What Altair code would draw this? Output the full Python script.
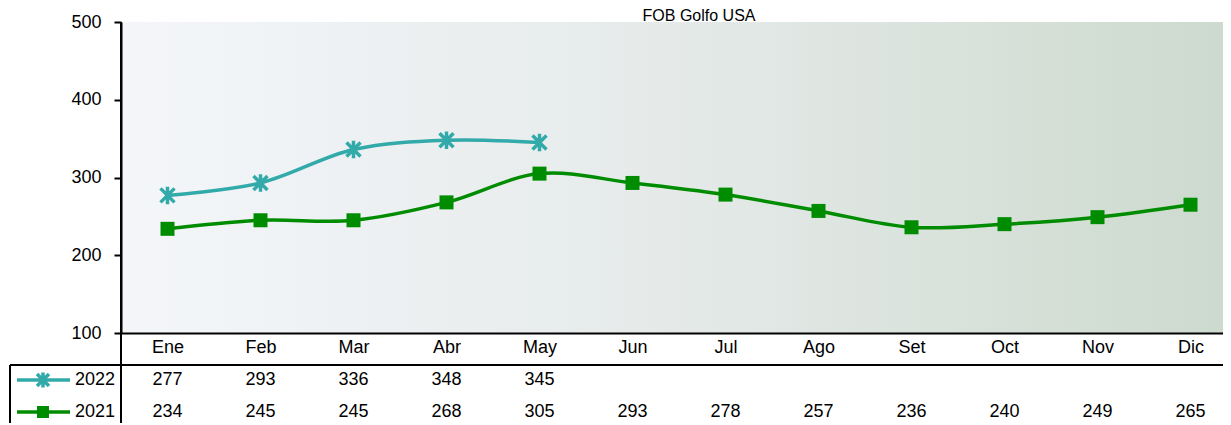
import json
import altair as alt
import pandas as pd

# ---------------- data ----------------
months = ["Ene", "Feb", "Mar", "Abr", "May", "Jun", "Jul", "Ago", "Set", "Oct", "Nov", "Dic"]
series_names = ["2022", "2021"]
values_2022 = [277, 293, 336, 348, 345]
values_2021 = [234, 245, 245, 268, 305, 293, 278, 257, 236, 240, 249, 265]
y_ticks = [100, 200, 300, 400, 500]
title_text = "FOB Golfo USA"

rows = []
for i, v in enumerate(values_2022):
    rows.append({"m": i + 1, "mes": months[i], "serie": "2022", "valor": v})
for i, v in enumerate(values_2021):
    rows.append({"m": i + 1, "mes": months[i], "serie": "2021", "valor": v})
df = pd.DataFrame(rows)
series_df = pd.DataFrame({"serie": series_names})

# ---------------- style ----------------
W, H = 1102, 311
STEP = 93
FONT = "Liberation Sans Narrow, Arial Narrow, Liberation Sans, sans-serif"
FS = 18
COL = {"2022": "#33AAAA", "2021": "#008C00"}
STAR = "M-1,-1L1,1M-1,1L1,-1M0,-1.25L0,1.25"

x_scale = alt.Scale(domain=[0.5, 0.5 + W / STEP], nice=False, zero=False)
y_scale = alt.Scale(domain=[100, 500], nice=False, zero=False)
row_scale = alt.Scale(type="point", domain=series_names, range=[358, 390], padding=0)
color_scale = alt.Scale(domain=series_names, range=[COL[s] for s in series_names])

x_axis = alt.Axis(
    values=list(range(1, 13)),
    labelExpr=f"{json.dumps(months)}[datum.value - 1]",
    ticks=False, grid=False, title=None,
    domainColor="black", domainWidth=2,
    labelFont=FONT, labelFontSize=FS, labelColor="black",
    labelPadding=5, labelFlush=False, labelOverlap=False, zindex=1,
)
y_axis = alt.Axis(
    values=y_ticks, grid=False, title=None,
    domainColor="black", domainWidth=2,
    tickColor="black", tickWidth=2, tickSize=7,
    labelFont=FONT, labelFontSize=FS, labelColor="black",
    labelPadding=13, labelFlush=False, labelOverlap=False, zindex=1,
)

one = alt.Data(values=[{}])

gradient = alt.LinearGradient(
    gradient="linear",
    stops=[
        alt.GradientStop(color="#F4F6FA", offset=0),
        alt.GradientStop(color="#E5EAE9", offset=0.5),
        alt.GradientStop(color="#CDDACE", offset=1),
    ],
    x1=0, x2=1, y1=0, y2=0,
)

bg = alt.Chart(one).mark_rect(color=gradient).encode(
    x=alt.value(0), x2=alt.value(W), y=alt.value(0), y2=alt.value(H)
)

line = alt.Chart(df).mark_line(interpolate="catmull-rom", strokeWidth=3.5).encode(
    x=alt.X("m:Q", scale=x_scale, axis=x_axis),
    y=alt.Y("valor:Q", scale=y_scale, axis=y_axis),
    color=alt.Color("serie:N", scale=color_scale, legend=None),
    detail="serie:N",
)
pts21 = alt.Chart(df).transform_filter(alt.datum.serie == "2021").mark_point(
    shape="square", filled=True, size=196, opacity=1, color=COL["2021"]
).encode(
    x=alt.X("m:Q", scale=x_scale),
    y=alt.Y("valor:Q", scale=y_scale),
)
pts22 = alt.Chart(df).transform_filter(alt.datum.serie == "2022").mark_point(
    shape=STAR, filled=False, size=196, strokeWidth=3.5, opacity=1, color=COL["2022"]
).encode(
    x=alt.X("m:Q", scale=x_scale),
    y=alt.Y("valor:Q", scale=y_scale),
)
plot_layer = alt.layer(line, pts21, pts22)

# ---------------- data table below ----------------
table_text = alt.Chart(df).mark_text(
    font=FONT, fontSize=FS, color="black", baseline="middle", align="center"
).encode(
    x=alt.X("m:Q", scale=x_scale),
    y=alt.Y("serie:N", scale=row_scale, axis=None),
    text="valor:Q",
)
leg_line = alt.Chart(series_df).mark_rule(strokeWidth=3.5).encode(
    x=alt.value(-104), x2=alt.value(-51),
    y=alt.Y("serie:N", scale=row_scale, axis=None),
    color=alt.Color("serie:N", scale=color_scale, legend=None),
)
leg_sq = alt.Chart(series_df).transform_filter(alt.datum.serie == "2021").mark_point(
    shape="square", filled=True, size=144, opacity=1, color=COL["2021"]
).encode(x=alt.value(-78), y=alt.Y("serie:N", scale=row_scale, axis=None))
leg_star = alt.Chart(series_df).transform_filter(alt.datum.serie == "2022").mark_point(
    shape=STAR, filled=False, size=144, strokeWidth=3.5, opacity=1, color=COL["2022"]
).encode(x=alt.value(-78), y=alt.Y("serie:N", scale=row_scale, axis=None))
leg_label = alt.Chart(series_df).mark_text(
    font=FONT, fontSize=FS, color="black", baseline="middle", align="right"
).encode(x=alt.value(-6), y=alt.Y("serie:N", scale=row_scale, axis=None), text="serie:N")
table_layer = alt.layer(table_text, leg_line, leg_sq, leg_star, leg_label)

# table grid lines
h_line = alt.Chart(one).mark_rule(color="black", strokeWidth=2).encode(
    x=alt.value(-111), x2=alt.value(W), y=alt.value(343)
)
v_line0 = alt.Chart(one).mark_rule(color="black", strokeWidth=2).encode(
    x=alt.value(0), y=alt.value(0), y2=alt.value(410)
)
v_line_left = alt.Chart(one).mark_rule(color="black", strokeWidth=2).encode(
    x=alt.value(-111), y=alt.value(343), y2=alt.value(410)
)

title = alt.Chart(one).mark_text(
    text=title_text, font=FONT, fontSize=16, color="black", align="center", baseline="alphabetic"
).encode(x=alt.value(578), y=alt.value(-1))

chart = alt.layer(
    bg, plot_layer, table_layer, h_line, v_line0, v_line_left, title
).resolve_scale(y="independent").properties(
    width=W, height=H,
    autosize=alt.AutoSizeParams(type="none"),
    padding={"left": 113, "top": 14, "right": 0, "bottom": 90},
    background="white",
).configure_view(stroke=None)

chart.save("out.html", embed_options={"renderer": "svg", "actions": False})
